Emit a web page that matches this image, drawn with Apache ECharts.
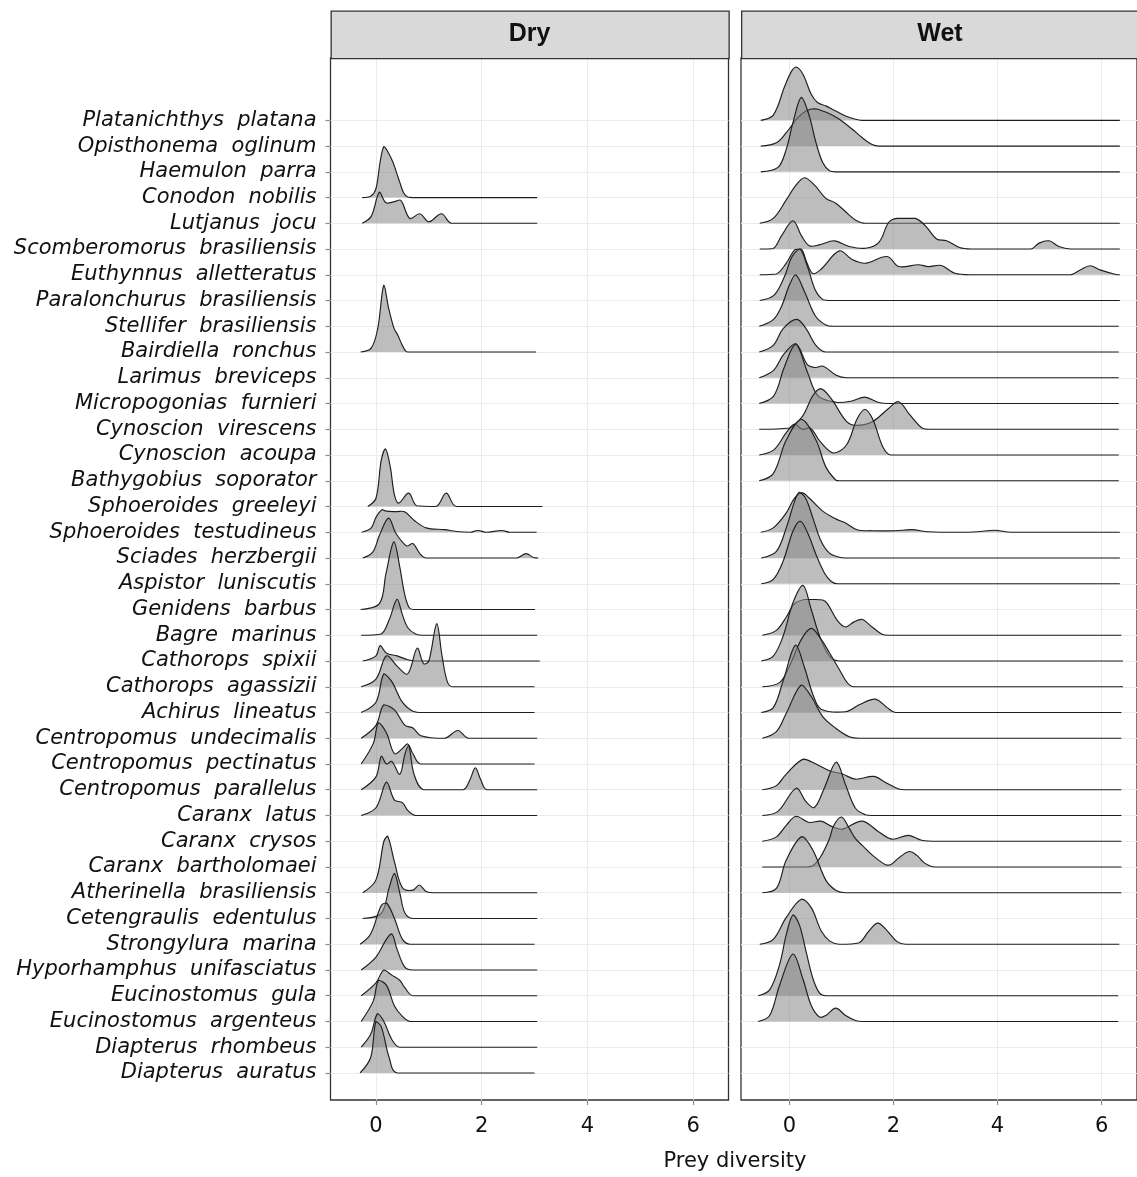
<!DOCTYPE html>
<html><head><meta charset="utf-8">
<script src="https://cdn.jsdelivr.net/npm/echarts@6/dist/echarts.min.js"></script>
<style>html,body{margin:0;padding:0;background:#fff}#c{width:1137px;height:1177px}</style>
</head><body><div id="c"></div>
<script>
// ---- categories (top to bottom) ----
const species = [
 "Platanichthys platana","Opisthonema oglinum","Haemulon parra","Conodon nobilis","Lutjanus jocu",
 "Scomberomorus brasiliensis","Euthynnus alletteratus","Paralonchurus brasiliensis","Stellifer brasiliensis",
 "Bairdiella ronchus","Larimus breviceps","Micropogonias furnieri","Cynoscion virescens","Cynoscion acoupa",
 "Bathygobius soporator","Sphoeroides greeleyi","Sphoeroides testudineus","Sciades herzbergii",
 "Aspistor luniscutis","Genidens barbus","Bagre marinus","Cathorops spixii","Cathorops agassizii",
 "Achirus lineatus","Centropomus undecimalis","Centropomus pectinatus","Centropomus parallelus",
 "Caranx latus","Caranx crysos","Caranx bartholomaei","Atherinella brasiliensis","Cetengraulis edentulus",
 "Strongylura marina","Hyporhamphus unifasciatus","Eucinostomus gula","Eucinostomus argenteus",
 "Diapterus rhombeus","Diapterus auratus"
];
const panels = ["Dry","Wet"];
const xTicks = [0,2,4,6];
const xTitle = "Prey diversity";

// ---- ridge profiles: [prey diversity, ridge height in row units] ----
const dryRidges = [
 ["Conodon nobilis", [[-0.26,0],[-0.1,0.05],[0,0.35],[0.08,1.4],[0.15,1.98],[0.22,1.8],[0.32,1.38],[0.4,0.9],[0.45,0.6],[0.52,0.2],[0.6,0.02],[0.7,0],[3.05,0]]],
 ["Lutjanus jocu", [[-0.26,0],[-0.09,0.27],[0.066,1.21],[0.19,0.8],[0.35,0.84],[0.47,0.89],[0.64,0.19],[0.83,0.37],[1.0,0.06],[1.24,0.37],[1.43,0],[3.05,0]]],
 ["Bairdiella ronchus", [[-0.29,0],[-0.09,0.15],[0.035,0.93],[0.15,2.6],[0.24,1.7],[0.34,0.93],[0.41,0.67],[0.51,0.22],[0.6,0],[3.03,0]]],
 ["Sphoeroides greeleyi", [[-0.155,0],[0,0.32],[0.1,1.8],[0.18,2.24],[0.27,1.55],[0.35,0.45],[0.43,0.13],[0.62,0.52],[0.77,0.03],[1.14,0],[1.33,0.52],[1.52,0],[3.15,0]]],
 ["Sphoeroides testudineus", [[-0.27,0],[-0.09,0.17],[0,0.58],[0.12,0.88],[0.19,0.82],[0.38,0.8],[0.54,0.8],[0.73,0.45],[0.95,0.17],[1.3,0.1],[1.52,0.03],[1.78,0],[1.93,0.07],[2.09,0],[2.38,0.07],[2.53,0],[3.04,0]]],
 ["Sciades herzbergii", [[-0.25,0],[-0.06,0.23],[0.066,0.88],[0.24,1.55],[0.38,0.95],[0.58,0.47],[0.7,0.56],[0.83,0.17],[0.95,0],[2.66,0],[2.84,0.17],[2.98,0.02],[3.07,0]]],
 ["Genidens barbus", [[-0.29,0],[0.066,0.23],[0.19,1.4],[0.34,2.63],[0.45,1.66],[0.54,0.62],[0.62,0.1],[0.7,0],[3.01,0]]],
 ["Bagre marinus", [[-0.28,0],[0.1,0.05],[0.25,0.6],[0.4,1.4],[0.5,0.8],[0.6,0.3],[0.75,0.05],[0.9,0],[3.05,0]]],
 ["Cathorops spixii", [[-0.25,0],[0,0.2],[0.08,0.6],[0.2,0.3],[0.4,0.2],[0.6,0.05],[0.8,0],[3.1,0]]],
 ["Cathorops agassizii", [[-0.28,0],[0,0.3],[0.2,1.2],[0.4,0.8],[0.6,0.5],[0.78,1.5],[0.9,0.9],[1.0,1.0],[1.15,2.45],[1.25,1.2],[1.35,0.2],[1.45,0],[3.0,0]]],
 ["Achirus lineatus", [[-0.28,0],[0,0.4],[0.15,1.5],[0.3,1.2],[0.5,0.4],[0.7,0.05],[0.9,0],[3.0,0]]],
 ["Centropomus undecimalis", [[-0.28,0],[0,0.5],[0.15,1.3],[0.35,1.1],[0.55,0.5],[0.7,0.4],[0.85,0.1],[1.3,0],[1.55,0.3],[1.75,0],[3.05,0]]],
 ["Centropomus pectinatus", [[-0.28,0],[-0.05,0.8],[0.05,1.6],[0.2,1.2],[0.35,0.4],[0.5,0.6],[0.6,0.78],[0.7,0.4],[0.85,0],[3.0,0]]],
 ["Centropomus parallelus", [[-0.28,0],[0,0.5],[0.1,1.3],[0.2,1.0],[0.3,1.1],[0.45,0.6],[0.55,1.4],[0.62,1.72],[0.72,0.6],[0.9,0],[1.65,0],[1.78,0.4],[1.88,0.85],[1.98,0.4],[2.1,0],[3.05,0]]],
 ["Caranx latus", [[-0.28,0],[0,0.3],[0.2,1.3],[0.35,0.6],[0.5,0.5],[0.6,0.2],[0.75,0],[3.05,0]]],
 ["Atherinella brasiliensis", [[-0.25,0],[0,0.5],[0.15,2.0],[0.22,2.2],[0.35,1.2],[0.5,0.2],[0.7,0.1],[0.82,0.3],[0.95,0.05],[1.1,0],[3.05,0]]],
 ["Cetengraulis edentulus", [[-0.25,0],[0.1,0.2],[0.25,1.2],[0.35,1.75],[0.45,1.0],[0.55,0.2],[0.7,0],[3.05,0]]],
 ["Strongylura marina", [[-0.3,0],[-0.1,0.4],[0.1,1.5],[0.2,1.6],[0.35,1.0],[0.5,0.2],[0.65,0],[3.0,0]]],
 ["Hyporhamphus unifasciatus", [[-0.28,0],[0,0.5],[0.2,1.2],[0.3,1.4],[0.4,0.8],[0.55,0.1],[0.7,0],[3.05,0]]],
 ["Eucinostomus gula", [[-0.28,0],[0,0.5],[0.15,1.0],[0.3,0.8],[0.45,0.6],[0.55,0.3],[0.7,0],[3.05,0]]],
 ["Eucinostomus argenteus", [[-0.28,0],[-0.05,0.8],[0.05,1.6],[0.2,1.4],[0.35,0.6],[0.5,0.2],[0.65,0],[3.05,0]]],
 ["Diapterus rhombeus", [[-0.28,0],[-0.1,0.5],[0.03,1.3],[0.15,1.0],[0.3,0.3],[0.45,0],[3.05,0]]],
 ["Diapterus auratus", [[-0.3,0],[-0.1,0.6],[0.0,2.0],[0.1,1.8],[0.25,0.6],[0.4,0],[3.0,0]]]
];

const wetRidges = [
 ["Platanichthys platana", [[-0.55,0],[-0.31,0.2],[-0.09,1.32],[0.04,1.9],[0.13,2.07],[0.26,1.79],[0.42,1.01],[0.54,0.69],[0.7,0.56],[0.89,0.36],[1.08,0.17],[1.27,0.04],[1.39,0],[6.35,0]]],
 ["Opisthonema oglinum", [[-0.55,0],[-0.25,0.13],[-0.06,0.52],[0.16,1.1],[0.32,1.36],[0.48,1.45],[0.73,1.29],[0.96,1.04],[1.21,0.65],[1.4,0.32],[1.59,0.06],[1.72,0],[6.35,0]]],
 ["Haemulon parra", [[-0.55,0],[-0.22,0.17],[-0.06,0.88],[0.07,1.92],[0.23,2.89],[0.38,2.18],[0.51,1.14],[0.64,0.36],[0.77,0.04],[0.89,0],[6.35,0]]],
 ["Lutjanus jocu", [[-0.57,0],[-0.31,0.19],[-0.06,0.91],[0.13,1.49],[0.29,1.77],[0.48,1.49],[0.7,0.97],[0.89,0.78],[1.08,0.45],[1.27,0.13],[1.46,0],[6.35,0]]],
 ["Scomberomorus brasiliensis", [[-0.57,0],[-0.31,0.02],[-0.15,0.52],[0.07,1.1],[0.23,0.52],[0.38,0.13],[0.57,0.16],[0.86,0.32],[1.15,0.1],[1.46,0.03],[1.72,0.26],[1.91,1.04],[2.07,1.19],[2.42,1.19],[2.61,0.91],[2.83,0.39],[3.02,0.32],[3.27,0.06],[3.49,0],[4.64,0],[4.8,0.23],[4.99,0.32],[5.18,0.1],[5.4,0],[6.35,0]]],
 ["Euthynnus alletteratus", [[-0.57,0],[-0.25,0.03],[-0.06,0.45],[0.1,0.97],[0.23,1.0],[0.33,0.5],[0.45,0.05],[0.6,0.2],[0.96,0.93],[1.2,0.6],[1.46,0.45],[1.88,0.71],[2.1,0.32],[2.48,0.39],[2.67,0.32],[2.92,0.36],[3.18,0.06],[3.49,0],[5.4,0],[5.59,0.19],[5.78,0.35],[5.97,0.19],[6.29,0],[6.35,0]]],
 ["Paralonchurus brasiliensis", [[-0.57,0],[-0.3,0.2],[-0.1,0.9],[0.05,1.7],[0.2,2.0],[0.35,1.3],[0.5,0.4],[0.65,0.03],[0.8,0],[6.35,0]]],
 ["Stellifer brasiliensis", [[-0.58,0],[-0.31,0.26],[-0.15,0.78],[0.0,1.6],[0.12,2.0],[0.3,1.3],[0.5,0.4],[0.7,0.05],[0.85,0],[6.33,0]]],
 ["Bairdiella ronchus", [[-0.58,0],[-0.31,0.26],[-0.12,0.91],[0.14,1.27],[0.32,0.91],[0.51,0.26],[0.7,0],[6.33,0]]],
 ["Larimus breviceps", [[-0.58,0],[-0.3,0.3],[-0.12,0.88],[0.12,1.33],[0.35,0.5],[0.5,0.4],[0.65,0.45],[0.9,0.1],[1.1,0],[6.33,0]]],
 ["Micropogonias furnieri", [[-0.58,0],[-0.3,0.3],[-0.1,1.4],[0.12,2.3],[0.35,1.2],[0.55,0.3],[0.9,0.05],[1.2,0.1],[1.45,0.25],[1.7,0.05],[1.9,0],[6.33,0]]],
 ["Cynoscion virescens", [[-0.58,0],[0,0.05],[0.25,0.5],[0.45,1.3],[0.6,1.58],[0.8,1.2],[1.1,0.3],[1.3,0.15],[1.6,0.3],[1.9,0.8],[2.1,1.07],[2.3,0.6],[2.55,0.05],[2.7,0],[6.33,0]]],
 ["Cynoscion acoupa", [[-0.58,0],[-0.3,0.2],[-0.05,0.9],[0.1,1.2],[0.25,1.0],[0.4,1.05],[0.6,0.5],[0.85,0.08],[1.1,0.4],[1.3,1.4],[1.45,1.77],[1.6,1.4],[1.8,0.3],[1.95,0],[6.33,0]]],
 ["Bathygobius soporator", [[-0.58,0],[-0.31,0.28],[-0.06,1.58],[0.23,2.38],[0.51,1.58],[0.7,0.54],[0.89,0.03],[0.96,0],[6.33,0]]],
 ["Sphoeroides testudineus", [[-0.55,0],[-0.31,0.17],[-0.06,0.75],[0.1,1.33],[0.25,1.53],[0.38,1.33],[0.64,0.82],[0.89,0.52],[1.08,0.36],[1.3,0.1],[1.59,0.06],[2.03,0.06],[2.35,0.1],[2.67,0.02],[3.24,0],[3.62,0.02],[3.94,0.08],[4.26,0],[6.35,0]]],
 ["Sciades herzbergii", [[-0.54,0],[-0.25,0.26],[-0.06,1.17],[0.1,2.2],[0.19,2.55],[0.31,2.33],[0.45,1.56],[0.61,0.65],[0.77,0.19],[0.96,0.03],[1.08,0],[6.35,0]]],
 ["Aspistor luniscutis", [[-0.54,0],[-0.31,0.17],[-0.12,0.88],[0.07,2.05],[0.21,2.43],[0.35,1.98],[0.51,1.14],[0.67,0.43],[0.8,0.1],[0.92,0],[6.35,0]]],
 ["Bagre marinus", [[-0.52,0],[-0.25,0.19],[-0.06,0.71],[0.1,1.23],[0.29,1.39],[0.45,1.39],[0.64,1.37],[0.73,1.23],[0.92,0.58],[1.08,0.32],[1.24,0.52],[1.4,0.61],[1.59,0.32],[1.78,0.04],[1.91,0],[6.38,0]]],
 ["Cathorops spixii", [[-0.54,0],[-0.31,0.19],[-0.12,0.97],[0.07,2.27],[0.26,2.94],[0.42,2.0],[0.58,0.97],[0.77,0.19],[0.96,0],[6.41,0]]],
 ["Cathorops agassizii", [[-0.52,0],[-0.19,0.16],[0.0,0.8],[0.23,1.84],[0.42,2.27],[0.61,1.84],[0.77,1.32],[0.96,0.67],[1.11,0.16],[1.24,0],[6.41,0]]],
 ["Achirus lineatus", [[-0.54,0],[-0.31,0.19],[-0.12,1.23],[0.12,2.62],[0.29,1.75],[0.45,0.71],[0.61,0.13],[1.08,0.03],[1.34,0.3],[1.65,0.52],[1.88,0.19],[2.04,0],[6.38,0]]],
 ["Centropomus undecimalis", [[-0.52,0],[-0.25,0.26],[-0.06,0.97],[0.23,2.07],[0.42,1.62],[0.64,0.84],[0.89,0.39],[1.15,0.06],[1.34,0],[6.38,0]]],
 ["Centropomus parallelus", [[-0.52,0],[-0.25,0.16],[-0.06,0.61],[0.27,1.19],[0.51,1.0],[0.77,0.74],[1.02,0.61],[1.27,0.41],[1.62,0.52],[1.84,0.29],[2.1,0.03],[2.23,0],[6.38,0]]],
 ["Caranx latus", [[-0.52,0],[-0.22,0.16],[0.13,1.06],[0.32,0.54],[0.48,0.31],[0.67,1.06],[0.9,2.07],[1.08,1.19],[1.27,0.28],[1.46,0.03],[1.59,0],[6.38,0]]],
 ["Caranx crysos", [[-0.52,0],[-0.25,0.17],[-0.06,0.62],[0.13,0.97],[0.38,0.73],[0.61,0.78],[0.83,0.56],[1.02,0.47],[1.4,0.78],[1.72,0.36],[1.97,0.08],[2.29,0.23],[2.54,0.04],[2.86,0],[6.38,0]]],
 ["Caranx bartholomaei", [[-0.52,0],[0.3,0],[0.45,0.05],[0.6,0.4],[0.77,1.1],[0.85,1.6],[1.0,1.94],[1.15,1.5],[1.27,1.1],[1.4,0.84],[1.6,0.45],[1.84,0.1],[1.95,0.1],[2.1,0.35],[2.3,0.6],[2.45,0.45],[2.6,0.15],[2.8,0],[6.38,0]]],
 ["Atherinella brasiliensis", [[-0.52,0],[-0.25,0.17],[-0.06,1.27],[0.24,2.18],[0.45,1.66],[0.7,0.49],[0.89,0.1],[1.08,0],[6.38,0]]],
 ["Strongylura marina", [[-0.57,0],[-0.31,0.19],[-0.06,1.04],[0.23,1.75],[0.42,1.42],[0.61,0.52],[0.77,0.13],[0.96,0],[1.34,0.06],[1.53,0.52],[1.7,0.82],[1.88,0.52],[2.07,0.1],[2.23,0],[6.34,0]]],
 ["Eucinostomus gula", [[-0.6,0],[-0.38,0.23],[-0.19,1.2],[-0.06,2.37],[0.07,3.14],[0.19,2.76],[0.32,1.72],[0.45,0.68],[0.58,0.1],[0.7,0],[6.32,0]]],
 ["Eucinostomus argenteus", [[-0.6,0],[-0.38,0.23],[-0.19,1.4],[0.07,2.62],[0.26,1.65],[0.42,0.62],[0.58,0.17],[0.7,0.23],[0.89,0.52],[1.08,0.23],[1.27,0.04],[1.4,0],[6.32,0]]]
];

const fillColor = 'rgba(135,135,135,0.55)';
const lineColor = '#1e1e1e';
const fontLib = "'Liberation Sans', Arial, Helvetica, sans-serif";
const fontWide = "'DejaVu Sans', 'Liberation Sans', sans-serif";

function ridgeSeries(ridges, idx){
  return {
    type:'custom', xAxisIndex:idx, yAxisIndex:idx, clip:false,
    data: ridges.map(r => [r[1][0][0], species.length-1-species.indexOf(r[0])]),
    encode:{x:0,y:1},
    renderItem: function(params, api){
      const r = ridges[params.dataIndex];
      const base = species.length-1-species.indexOf(r[0]);
      const pts = r[1].map(p => api.coord([p[0], base + p[1]]));
      const cons = [[Infinity,Infinity],[-Infinity,-Infinity]];
      return {type:'group', children:[
        {type:'polygon', shape:{points:pts, smooth:0.35, smoothConstraint:cons}, style:{fill:fillColor, stroke:null}},
        {type:'polyline', shape:{points:pts, smooth:0.35, smoothConstraint:cons}, style:{fill:null, stroke:lineColor, lineWidth:1.15}}
      ]};
    }
  };
}

const catVals = species.map((s,i)=>i);
const chart = echarts.init(document.getElementById('c'), null, {renderer:'canvas'});
const gridCommon = {top:58, bottom:77, show:true, borderColor:'#333', borderWidth:1.3, backgroundColor:'#fff'};
function xAxis(idx, min, max){
  return {type:'value', gridIndex:idx, min:min, max:max,
    axisLine:{show:false, onZero:false},
    axisTick:{show:true, length:5, lineStyle:{color:'#8a8a8a', width:1.2}, customValues:xTicks},
    axisLabel:{customValues:xTicks, fontSize:21, color:'#111', margin:16, fontFamily:fontWide},
    splitLine:{show:true, lineStyle:{color:'#ebebeb', width:1}}};
}
function yAxis(idx, showLabels){
  return {type:'value', gridIndex:idx, min:-1.05, max:39.42,
    axisLine:{show:false, onZero:false},
    axisTick:{show:showLabels, length:5, lineStyle:{color:'#8a8a8a', width:1.2}, customValues:catVals},
    axisLabel:{show:showLabels, customValues:catVals, fontSize:21, fontStyle:'italic', color:'#111', margin:14, fontFamily:fontWide,
      formatter: v => { const s = species[species.length-1-Math.round(v)]; return s ? s.replace(' ', '  ') : ''; }},
    splitLine:{show:true, lineStyle:{color:'#ebebeb', width:1}}};
}
const strips = [[330.5,398],[741,400]];
const graphic = [];
panels.forEach((p,i)=>{
  graphic.push({type:'rect', left:strips[i][0], top:10.5, shape:{width:strips[i][1], height:47.5}, style:{fill:'#d9d9d9', stroke:'#333', lineWidth:1.3}, z:10});
  graphic.push({type:'text', x:strips[i][0]+199, y:34.5, style:{text:p, font:"bold 25px "+fontLib, fill:'#111', textAlign:'center', textVerticalAlign:'middle'}, z:11});
});
graphic.push({type:'text', x:735, y:1162, style:{text:xTitle, font:"21px "+fontWide, fill:'#111', textAlign:'center', textVerticalAlign:'middle'}, z:11});

chart.setOption({
  animation:false,
  backgroundColor:'#fff',
  grid:[Object.assign({left:330.5, width:398}, gridCommon), Object.assign({left:741, width:400}, gridCommon)],
  xAxis:[xAxis(0,-0.86,6.67), xAxis(1,-0.93,6.68)],
  yAxis:[yAxis(0,true), yAxis(1,false)],
  graphic: graphic,
  series:[ridgeSeries(dryRidges,0), ridgeSeries(wetRidges,1)]
});
</script></body></html>
